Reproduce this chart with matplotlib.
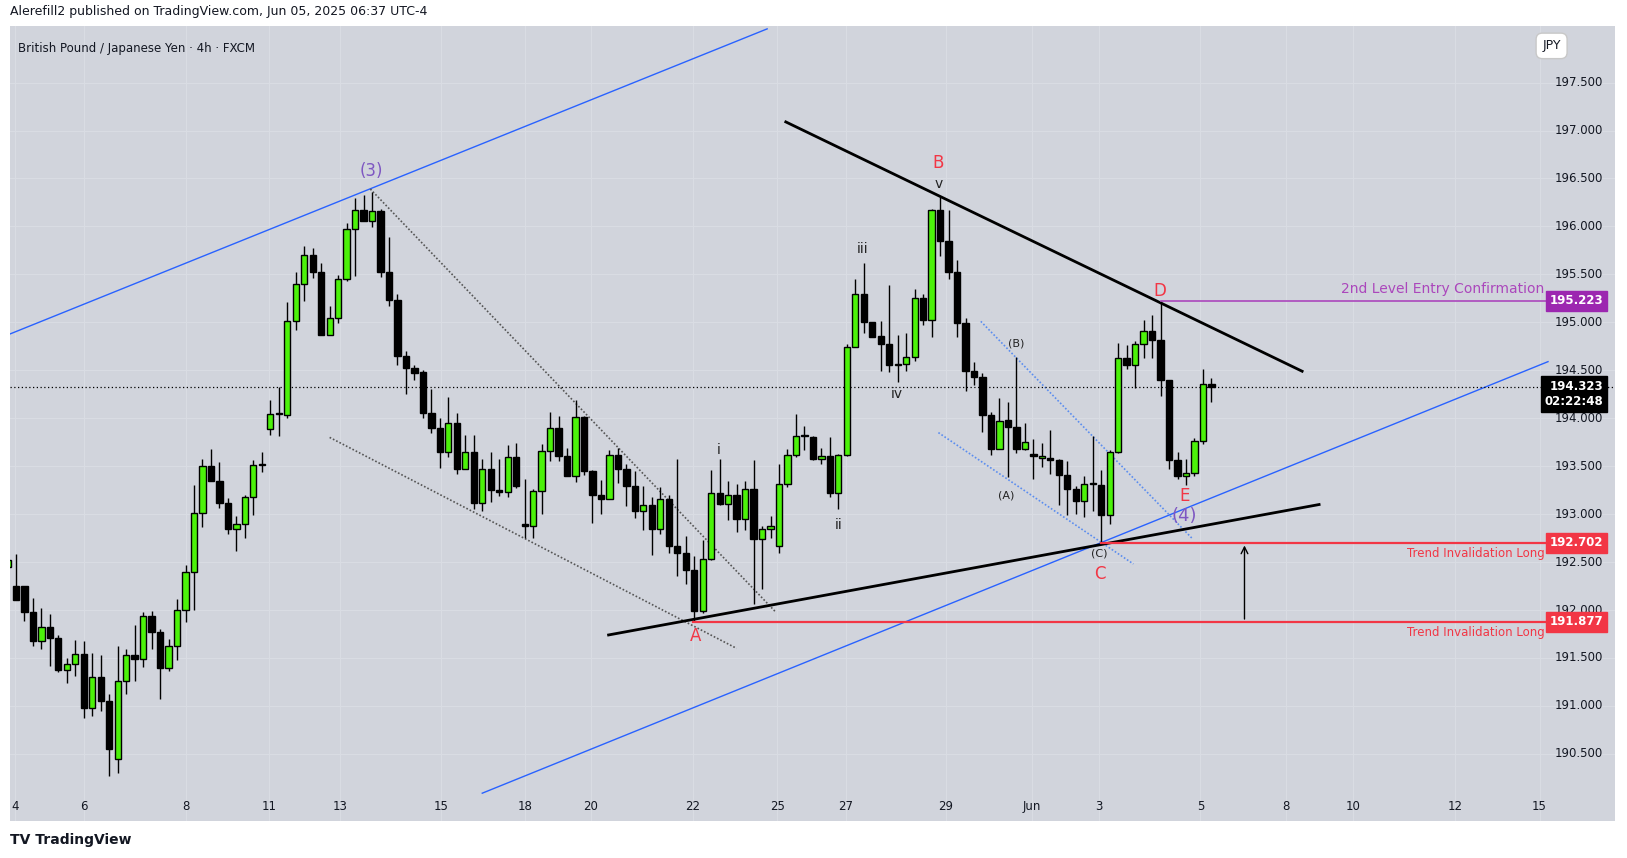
import matplotlib
matplotlib.use("Agg")
import matplotlib.pyplot as plt
import numpy as np
from matplotlib.transforms import blended_transform_factory as btf

opens = [192.45,192.25,192.25,191.98,191.68,191.82,191.71,191.37,191.44,191.54,190.98,191.30,191.05,190.45,191.26,191.53,191.49,191.94,191.77,191.40,
191.62,192.00,192.40,193.01,193.50,193.35,193.12,192.85,192.90,193.18,193.51,193.89,194.04,194.03,195.01,195.40,195.70,195.53,194.87,195.04,
195.45,195.97,196.17,196.06,196.16,195.52,195.23,194.65,194.52,194.48,194.05,193.90,193.65,193.95,193.47,193.65,193.12,193.47,193.25,193.23,
193.60,192.90,192.88,193.24,193.66,193.90,193.61,193.40,194.01,193.45,193.20,193.16,193.62,193.47,193.29,193.03,193.10,192.85,193.16,192.67,
192.59,192.42,191.99,192.53,193.22,193.11,193.20,192.95,193.26,192.74,192.84,192.67,193.31,193.62,193.81,193.80,193.58,193.61,193.22,193.62,
194.74,195.30,195.00,194.86,194.77,194.55,194.57,194.64,195.25,195.02,196.17,195.85,195.53,194.99,194.49,194.43,194.03,193.68,193.98,193.91,
193.68,193.61,193.59,193.59,193.56,193.41,193.26,193.14,193.31,193.30,192.99,193.65,194.63,194.56,194.77,194.91,194.82,194.40,193.56,193.40,
193.43,193.76,194.36]
closes = [192.52,192.10,191.98,191.68,191.82,191.71,191.37,191.44,191.54,190.98,191.30,191.05,190.55,191.26,191.53,191.49,191.94,191.77,191.40,191.62,
192.00,192.40,193.01,193.50,193.35,193.12,192.85,192.90,193.18,193.51,193.52,194.04,194.03,195.01,195.40,195.70,195.53,194.87,195.04,195.45,
195.97,196.17,196.06,196.16,195.52,195.23,194.65,194.52,194.47,194.05,193.90,193.65,193.95,193.47,193.65,193.12,193.47,193.25,193.23,193.60,
193.29,192.88,193.24,193.66,193.90,193.61,193.40,194.01,193.45,193.20,193.16,193.62,193.47,193.29,193.03,193.10,192.85,193.16,192.67,192.59,
192.42,191.99,192.53,193.22,193.11,193.20,192.95,193.26,192.74,192.84,192.88,193.31,193.62,193.81,193.80,193.58,193.61,193.22,193.62,194.74,
195.30,195.00,194.85,194.77,194.55,194.57,194.64,195.25,195.02,196.17,195.85,195.53,194.99,194.49,194.43,194.03,193.68,193.97,193.91,193.68,
193.75,193.60,193.59,193.56,193.41,193.26,193.14,193.31,193.30,192.99,193.65,194.63,194.56,194.77,194.91,194.82,194.40,193.56,193.40,193.43,
193.76,194.36,194.323]
highs = [192.55,192.58,192.25,192.13,192.02,191.96,191.74,191.50,191.69,191.68,191.55,191.53,191.12,191.62,191.59,191.84,191.98,191.99,191.80,191.70,
192.11,192.47,193.30,193.58,193.68,193.54,193.17,192.98,193.20,193.56,193.65,194.19,194.33,195.21,195.52,195.80,195.77,195.62,195.17,195.49,
196.04,196.30,196.33,196.36,196.18,195.89,195.30,194.70,194.55,194.50,194.30,194.00,194.22,194.05,193.82,193.82,193.57,193.65,193.57,193.72,
193.74,193.37,193.26,193.73,194.06,194.02,193.69,194.19,194.02,193.46,193.36,193.67,193.69,193.52,193.45,193.29,193.18,193.28,193.20,193.57,
192.77,192.56,192.73,193.46,193.58,193.35,193.31,193.35,193.56,192.88,192.98,193.52,193.68,194.04,193.92,193.81,193.69,193.80,193.63,194.77,
195.45,195.62,195.00,195.01,195.39,194.87,194.89,195.35,195.30,196.18,196.31,196.17,195.65,195.05,194.59,194.47,194.07,194.21,194.17,194.64,
193.95,193.78,193.74,193.88,193.57,193.55,193.29,193.40,193.81,193.46,193.67,194.78,194.76,194.81,195.02,195.08,195.22,194.40,193.65,193.58,
193.79,194.51,194.42]
lows = [192.42,192.10,191.89,191.62,191.59,191.42,191.35,191.24,191.31,190.87,190.90,190.95,190.27,190.30,191.12,191.26,191.41,191.59,191.07,191.36,
191.48,191.87,192.00,192.87,193.35,193.06,192.79,192.62,192.75,192.99,193.44,193.83,193.81,194.00,194.92,195.22,195.46,194.87,194.87,194.99,
195.43,195.48,196.06,195.99,195.47,195.17,194.55,194.25,194.40,194.00,193.85,193.48,193.60,193.42,193.47,193.05,193.03,193.13,193.19,193.18,
193.27,192.75,192.75,193.00,193.55,193.55,193.40,193.34,193.41,192.91,193.00,193.16,193.32,193.08,192.96,192.83,192.57,192.79,192.59,192.35,
192.27,191.88,191.97,192.52,193.09,192.94,192.81,192.83,192.06,192.22,192.75,192.59,193.28,193.60,193.67,193.56,193.52,193.18,193.05,193.61,
194.74,194.89,194.85,194.49,194.48,194.38,194.49,194.60,194.97,194.85,195.69,195.45,194.85,194.28,194.35,193.86,193.62,193.68,193.39,193.64,
193.67,193.37,193.49,193.42,193.10,192.99,193.00,192.97,193.03,192.70,192.90,193.64,194.51,194.32,194.63,194.63,194.23,193.47,193.37,193.30,
193.40,193.73,194.17]

date_labels = ["4","6","8","11","13","15","18","20","22","25","27","29","Jun","3","5","8","10","12","15"]
date_pos = [0.9,9.0,21.0,30.9,39.2,51.1,61.0,68.8,80.8,90.8,98.9,110.7,120.8,128.7,140.7,150.8,158.7,170.7,180.7]
price_ticks = [190.5,191.0,191.5,192.0,192.5,193.0,193.5,194.0,194.5,195.0,195.5,196.0,196.5,197.0,197.5]

last_price = 194.323
entry_level = 195.223
inval_1 = 192.702
inval_2 = 191.877

W, H = 1627, 858
fig = plt.figure(figsize=(W/100, H/100), dpi=100)
fig.patch.set_facecolor("white")
ax = fig.add_axes([10/W, 1-821/H, 1605/W, 795/H])
ax.set_facecolor("#d1d4dc")
ax.set_xlim(0.3, 189.6)
ax.set_ylim(189.80, 198.09)
for s in ax.spines.values():
    s.set_visible(False)
ax.set_xticks([]); ax.set_yticks([])
for p in price_ticks:
    ax.axhline(p, color="#d9dce3", lw=0.8, zorder=0)
for d in date_pos:
    ax.axvline(d, color="#d9dce3", lw=0.8, zorder=0)

o = np.array(opens); c = np.array(closes); h = np.array(highs); l = np.array(lows)
x = np.arange(len(o))
ax.vlines(x, l, h, color="black", lw=1.0, zorder=3)
up = c >= o
body = np.where(np.abs(c-o) < 0.012, 0.012, c-o)
cols = np.where(up, "#4cf20a", "black")
ax.bar(x, body, bottom=o, width=0.74, color=cols, edgecolor="black", lw=1.0, zorder=4)

# Trend lines
ax.plot([0.34, 89.6], [194.88, 198.06], color="#2962ff", lw=1.0, zorder=2)
ax.plot([56.0, 181.7], [190.09, 194.59], color="#2962ff", lw=1.0, zorder=2)
ax.plot([91.8, 152.7], [197.09, 194.49], color="black", lw=2.0, zorder=5)
ax.plot([70.9, 154.7], [191.74, 193.10], color="black", lw=2.0, zorder=5)
ax.plot([42.8, 90.6], [196.39, 191.98], color="#555555", lw=1.2, ls=(0, (1, 1.2)), zorder=2)
ax.plot([38.0, 86.0], [193.80, 191.60], color="#555555", lw=1.2, ls=(0, (1, 1.2)), zorder=2)
ax.plot([114.8, 139.8], [195.01, 192.74], color="#5b8def", lw=1.2, ls=(0, (1, 1.2)), zorder=2)
ax.plot([109.8, 132.8], [193.85, 192.48], color="#5b8def", lw=1.2, ls=(0, (1, 1.2)), zorder=2)

ax.axhline(last_price, color="black", lw=0.9, ls=(0, (1, 2)), zorder=2)
ax.plot([129, 181.9], [inval_1, inval_1], color="#f23645", lw=1.6, zorder=5)
ax.plot([80.8, 181.9], [inval_2, inval_2], color="#f23645", lw=1.6, zorder=5)
ax.plot([136, 181.9], [entry_level, entry_level], color="#ab47bc", lw=1.2, zorder=5)
ax.annotate("", xy=(145.9, inval_1), xytext=(145.9, inval_2),
            arrowprops=dict(arrowstyle="->", color="black", lw=1.0, mutation_scale=12), zorder=6)

ax.text(181.3, inval_1-0.04, "Trend Invalidation Long", color="#f23645", fontsize=8.5, ha="right", va="top")
ax.text(181.3, inval_2-0.04, "Trend Invalidation Long", color="#f23645", fontsize=8.5, ha="right", va="top")
ax.text(181.3, entry_level+0.05, "2nd Level Entry Confirmation", color="#ab47bc", fontsize=10, ha="right", va="bottom")

# Wave labels
red = "#f23645"; purple = "#7e57c2"
for t, xx, yy, col, fs in [("(3)", 42.9, 196.58, purple, 12), ("B", 109.8, 196.66, red, 12),
                           ("v", 109.8, 196.44, "#222", 10), ("iii", 100.9, 195.76, "#222", 10),
                           ("iv", 104.9, 194.25, "#222", 10), ("ii", 98.0, 192.89, "#222", 10),
                           ("i", 83.9, 193.67, "#222", 10), ("(B)", 119.0, 194.78, "#222", 8),
                           ("(A)", 117.8, 193.19, "#222", 8), ("(C)", 128.8, 192.59, "#222", 8),
                           ("A", 81.1, 191.73, red, 12), ("C", 128.8, 192.38, red, 12),
                           ("D", 135.9, 195.33, red, 12), ("E", 138.8, 193.19, red, 12),
                           ("(4)", 138.8, 192.98, purple, 13)]:
    ax.text(xx, yy, t, color=col, fontsize=fs, ha="center", va="center", zorder=7)

# price axis labels
tr = btf(ax.transAxes, ax.transData)
for p in price_ticks:
    ax.text(0.9925, p, f"{p:.3f}", transform=tr, ha="right", va="center", fontsize=8.5, color="#131722")
def tag(y, s, col):
    ax.text(0.9925, y, s, transform=tr, ha="right", va="center", fontsize=8.5, color="white",
            fontweight="bold", bbox=dict(boxstyle="square,pad=0.3", fc=col, ec=col), zorder=9)
tag(entry_level, "195.223", "#9c27b0")
tag(last_price-0.07, "194.323\n02:22:48", "black")
tag(inval_1, "192.702", "#f23645")
tag(inval_2, "191.877", "#f23645")
ax.text(0.9605, 0.975, "JPY", transform=ax.transAxes, ha="center", va="center", fontsize=9, color="#131722",
        bbox=dict(boxstyle="round,pad=0.5", fc="white", ec="#c8c8c8"))

trd = btf(ax.transData, ax.transAxes)
for lab, p in zip(date_labels, date_pos):
    ax.text(p, 0.018, lab, transform=trd, ha="center", va="center", fontsize=8.5, color="#131722")

ax.text(0.005, 0.98, "British Pound / Japanese Yen · 4h · FXCM", transform=ax.transAxes,
        ha="left", va="top", fontsize=8.5, color="#131722")
fig.text(10/W, 1-12/H, "Alerefill2 published on TradingView.com, Jun 05, 2025 06:37 UTC-4",
         ha="left", va="center", fontsize=9, color="#131722")
fig.text(10/W, 1-840/H, "TV TradingView", ha="left", va="center", fontsize=10, fontweight="bold", color="#131722")

fig.savefig("out.png", dpi=100, facecolor="white")
